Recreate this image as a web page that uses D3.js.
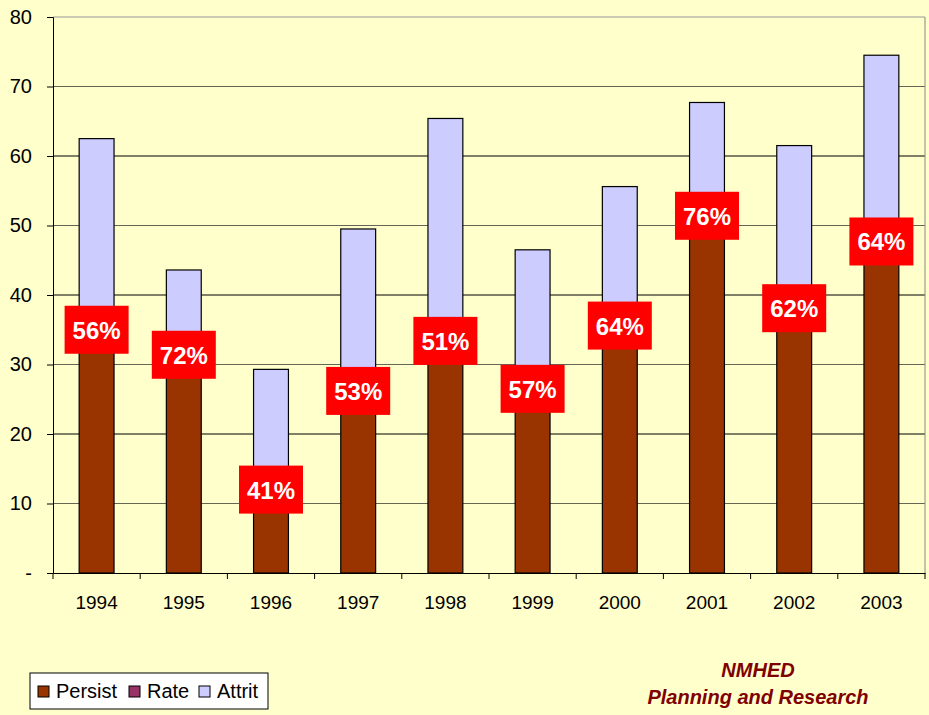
<!DOCTYPE html>
<html>
<head>
<meta charset="utf-8">
<script src="https://cdn.jsdelivr.net/npm/d3@7"></script>
<style>
  body { margin: 0; background: #FFFFCC; }
  svg { display: block; font-family: Arial, "Liberation Sans", sans-serif; }
</style>
</head>
<body>
<div id="chart"></div>
<script>
const years = ['1994','1995','1996','1997','1998','1999','2000','2001','2002','2003']
const persist = [35.0, 31.4, 12.0, 26.2, 33.4, 26.5, 35.6, 51.4, 38.1, 47.7]
const attrit = [27.5, 12.2, 17.3, 23.3, 32.0, 20.0, 20.0, 16.3, 23.4, 26.8]
const rate = ['56%','72%','41%','53%','51%','57%','64%','76%','62%','64%']
const yTicks = [0, 10, 20, 30, 40, 50, 60, 70, 80]
const legendNames = ['Persist', 'Rate', 'Attrit']
const legendColors = ['#993300', '#993366', '#CCCCFF']

const width = 929, height = 715
const margin = {top: 17, right: 4, bottom: 142, left: 53}

const svg = d3.select('#chart').append('svg')
  .attr('width', width).attr('height', height)

svg.append('rect').attr('width', width).attr('height', height).attr('fill', '#FFFFCC')

const x = d3.scaleBand().domain(years)
  .range([margin.left, width - margin.right])
  .paddingInner(0.6).paddingOuter(0.3)
const y = d3.scaleLinear().domain([0, 80]).range([height - margin.bottom, margin.top])

// gridlines, alternating shade like the original
svg.append('g')
  .selectAll('line')
  .data(yTicks.slice(1))
  .enter().append('line')
    .attr('x1', margin.left).attr('x2', width - margin.right)
    .attr('y1', d => y(d)).attr('y2', d => y(d))
    .attr('stroke', d => d === 80 ? '#999' : (d % 20 ? '#666655' : '#000'))
    .attr('stroke-width', 1)

// right border of plot area
svg.append('line')
  .attr('x1', width - margin.right).attr('x2', width - margin.right)
  .attr('y1', margin.top).attr('y2', y(0))
  .attr('stroke', '#888')

// bars
const stacks = years.map((yr, i) => ({yr, p: persist[i], a: attrit[i], r: rate[i]}))

const g = svg.append('g')
g.selectAll('.attrit').data(stacks).enter().append('rect')
  .attr('x', d => x(d.yr)).attr('width', x.bandwidth())
  .attr('y', d => y(d.p + d.a)).attr('height', d => y(d.p) - y(d.p + d.a))
  .attr('fill', '#CCCCFF').attr('stroke', '#000').attr('stroke-width', 1.2)
g.selectAll('.persist').data(stacks).enter().append('rect')
  .attr('x', d => x(d.yr)).attr('width', x.bandwidth())
  .attr('y', d => y(d.p)).attr('height', d => y(0) - y(d.p))
  .attr('fill', '#993300').attr('stroke', '#000').attr('stroke-width', 1.2)

// axes
const yAxis = d3.axisLeft(y).tickValues(yTicks).tickSize(6)
  .tickFormat(d => d === 0 ? '-' : d)
const ya = svg.append('g').attr('transform', `translate(${margin.left},0)`).call(yAxis)
ya.select('.domain').attr('stroke', '#000')
ya.selectAll('text').attr('font-size', 20).attr('fill', '#000').attr('dx', -12)

const xAxis = d3.axisBottom(x).tickSize(0)
const xa = svg.append('g').attr('transform', `translate(0,${y(0)})`).call(xAxis)
xa.select('.domain').attr('stroke', '#000')
xa.selectAll('text').attr('font-size', 19).attr('fill', '#000')
  .attr('y', 36).attr('dy', 0)
// category separators
const half = (x.step() - x.bandwidth()) / 2
xa.selectAll('.sep').data(years).enter().append('line')
  .attr('x1', d => x(d) - half).attr('x2', d => x(d) - half)
  .attr('y1', 0).attr('y2', 6).attr('stroke', '#000')
xa.append('line').attr('x1', width - margin.right).attr('x2', width - margin.right)
  .attr('y1', 0).attr('y2', 6).attr('stroke', '#000')

// rate labels
const lab = svg.append('g').selectAll('g').data(stacks).enter().append('g')
  .attr('transform', d => `translate(${x(d.yr) + x.bandwidth() / 2},${y(d.p)})`)
lab.append('rect').attr('x', -32).attr('y', -24).attr('width', 64).attr('height', 48)
  .attr('fill', '#FF0000')
lab.append('text').text(d => d.r)
  .attr('text-anchor', 'middle').attr('dy', 9)
  .attr('font-size', 24).attr('font-weight', 'bold').attr('fill', '#fff')

// legend
const leg = svg.append('g').attr('transform', 'translate(30,673)')
leg.append('rect').attr('width', 238).attr('height', 36)
  .attr('fill', '#fff').attr('stroke', '#000')
const offs = [8, 99, 169]
legendNames.forEach((n, i) => {
  leg.append('rect').attr('x', offs[i]).attr('y', 13).attr('width', 11).attr('height', 11)
    .attr('fill', legendColors[i]).attr('stroke', '#000')
  leg.append('text').text(n).attr('x', offs[i] + 18).attr('y', 25)
    .attr('font-size', 20).attr('fill', '#000')
})

// footer
const ft = svg.append('g').attr('fill', '#800000').attr('font-weight', 'bold')
  .attr('font-style', 'italic').attr('font-size', 20).attr('text-anchor', 'middle')
ft.append('text').text('NMHED').attr('x', 758).attr('y', 677)
ft.append('text').text('Planning and Research').attr('x', 758).attr('y', 704)
</script>
</body>
</html>
